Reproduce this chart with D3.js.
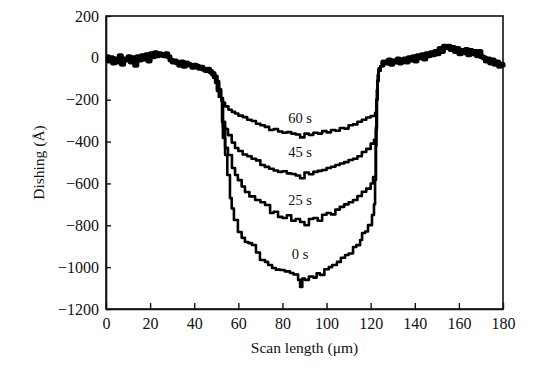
<!DOCTYPE html>
<html>
<head>
<meta charset="utf-8">
<script src="https://cdn.jsdelivr.net/npm/d3@7"></script>
<style>
  html, body { margin: 0; padding: 0; background: #fff; }
  svg { display: block; }
</style>
</head>
<body>
<svg id="chart" width="536" height="369"></svg>
<script>
// ---- data ----
const xTicks = [0, 20, 40, 60, 80, 100, 120, 140, 160, 180];
const yTicks = [200, 0, -200, -400, -600, -800, -1000, -1200];

// shared flat region left of the trench
const leftX = [0,1,2,3,4,5,6,7,8,9,10,11,12,13,14,15,16,17,18,19,20,21,22,23,24,25,26,27,28,29,30,31,32,33,34,35,36,37,38,39,40,41,42,43,44,45,46,47,48,49,50,50.8,51.7];
const leftY = [5,-15,0,-25,-5,-20,10,-30,-5,-10,5,-20,0,-35,5,-10,10,-5,15,-15,20,5,25,10,20,15,10,20,5,-10,-20,-15,-25,-35,-20,-40,-25,-30,-35,-45,-35,-40,-50,-45,-55,-60,-55,-65,-75,-90,-115,-154,-192];

// shared flat region right of the trench
const rightX = [124.5,125.5,127,128,129,130,131,132,133,134,135,136,137,138,139,140,141,142,143,144,145,146,147,148,149,150,151,152,153,154,155,156,157,158,159,160,161,162,163,164,165,166,167,168,169,170,171,172,173,174,175,176,177,178,179,180];
const rightY = [-35,-20,-25,-10,-30,-15,-20,-5,-25,-10,-5,-20,0,-10,5,-15,10,0,15,-5,20,10,25,15,30,20,45,30,55,50,55,40,50,30,45,20,35,25,40,15,35,20,30,10,30,5,0,-15,-5,-25,-10,-30,-20,-40,-30,-45];

// dishing profiles inside the trench for each polishing time
const series = [
  { label: "60 s", labelX: 88, labelY: -287,
    x: [51.7,53,54,55.5,57,58.5,60,62,64,66,68,70,72,74,76,78,80,82,84,86,88,90,92,94,96,98,100,102,104,106,108,110,112,114,116,118,120,122,122.6,123,123.6,124.5],
    y: [-192,-215,-232,-248,-258,-266,-276,-283,-296,-302,-315,-322,-330,-345,-340,-352,-358,-355,-362,-366,-380,-362,-368,-358,-362,-350,-356,-345,-348,-335,-338,-322,-318,-305,-296,-285,-278,-262,-200,-110,-60,-35] },
  { label: "45 s", labelX: 88, labelY: -450,
    x: [51.7,52.6,54,55.3,57,58.5,60,62,64,66,68,70,72,74,76,78,80,82,84,86,88,90,92,94,96,98,100,102,104,106,108,110,112,114,116,118,120,121.5,122.4,122.8,123.2,123.6,124.5],
    y: [-201,-306,-340,-369,-405,-431,-445,-462,-470,-482,-490,-512,-521,-530,-538,-545,-542,-552,-555,-562,-575,-548,-556,-545,-540,-536,-526,-520,-512,-505,-498,-488,-482,-470,-450,-435,-410,-392,-330,-200,-110,-60,-35] },
  { label: "25 s", labelX: 88, labelY: -679,
    x: [51.7,53,54,55.3,57.1,58.5,59.8,61.5,63,65,67.6,70,72.1,74.4,76,78,80,82,84,86,88,90,92,94,96,98,100,102,104,106,108,110,112,114,116,118,120,121.1,122.3,122.6,123,123.6,124.5],
    y: [-201,-383,-430,-464,-526,-560,-584,-615,-641,-662,-679,-690,-703,-741,-735,-760,-765,-752,-778,-770,-784,-800,-770,-765,-778,-750,-741,-748,-725,-712,-700,-690,-679,-660,-640,-625,-600,-569,-420,-200,-110,-60,-35] },
  { label: "0 s", labelX: 88, labelY: -937,
    x: [51.7,53,54,55,56.2,57,58,59.8,61.5,63,64.5,66.2,68,69.8,72.1,73.5,75.3,77,78.9,81,83.4,85,87.1,88,89,90.2,92,94,95.5,97,99,101,102.5,104.7,106.5,108.4,110,112,113.5,115.2,116.1,117.5,118.8,120.6,121.5,122,122.4,122.8,123.2,123.6,124.5],
    y: [-201,-330,-464,-560,-670,-720,-775,-832,-860,-880,-885,-894,-930,-966,-975,-990,-1004,-1012,-1014,-1020,-1028,-1035,-1061,-1095,-1055,-1061,-1045,-1050,-1030,-1037,-1010,-1000,-990,-975,-955,-942,-935,-904,-895,-870,-837,-830,-799,-751,-700,-584,-345,-154,-82,-50,-35] }
];

// ---- layout ----
const FONT = '"Liberation Serif", Tinos, "Times New Roman", "DejaVu Serif", serif';
const margin = { left: 106, top: 16, right: 33, bottom: 60 };
const W = 536, H = 369;
const svg = d3.select("#chart");
const x = d3.scaleLinear().domain([0, 180]).range([margin.left, W - margin.right]);
const y = d3.scaleLinear().domain([-1200, 200]).range([H - margin.bottom, margin.top]);

// frame
svg.append("rect")
  .attr("x", x(0)).attr("y", y(200))
  .attr("width", x(180) - x(0)).attr("height", y(-1200) - y(200))
  .attr("fill", "none").attr("stroke", "#111").attr("stroke-width", 1.6);

// axes with inward ticks
const xAxis = d3.axisBottom(x).tickValues(xTicks).tickSizeInner(-6).tickSizeOuter(0).tickPadding(8).tickFormat(d3.format("d"));
const yAxis = d3.axisLeft(y).tickValues(yTicks).tickSizeInner(-5).tickSizeOuter(0).tickPadding(7)
  .tickFormat(d => d < 0 ? "\u2212" + Math.abs(d) : String(d));

const gx = svg.append("g").attr("transform", `translate(0,${y(-1200)})`).call(xAxis);
const gy = svg.append("g").attr("transform", `translate(${x(0)},0)`).call(yAxis);
[gx, gy].forEach(g => {
  g.attr("font-family", FONT).attr("font-size", 16);
  g.select(".domain").attr("stroke", "#111").attr("stroke-width", 1.6);
  g.selectAll(".tick line").attr("stroke", "#111").attr("stroke-width", 1.4);
  g.selectAll(".tick text").attr("fill", "#111");
});
gx.selectAll(".tick text").attr("dy", "0.75em");

// axis titles
svg.append("text")
  .attr("x", (x(0) + x(180)) / 2).attr("y", 353)
  .attr("text-anchor", "middle").attr("font-family", FONT).attr("font-size", 15.5).attr("fill", "#111")
  .text("Scan length (\u03bcm)");
svg.append("text")
  .attr("transform", `translate(44,${(y(200) + y(-1200)) / 2}) rotate(-90)`)
  .attr("text-anchor", "middle").attr("font-family", FONT).attr("font-size", 15.5).attr("fill", "#111")
  .text("Dishing (\u00c5)");

// lines
const line = d3.line().x(d => x(d[0])).y(d => y(d[1])).curve(d3.curveStepAfter);
const plot = svg.append("g");

plot.append("path")
  .datum(d3.zip(leftX, leftY))
  .attr("d", line)
  .attr("fill", "none").attr("stroke", "#000").attr("stroke-width", 5).attr("stroke-linejoin", "round");

plot.append("path")
  .datum(d3.zip(rightX, rightY))
  .attr("d", line)
  .attr("fill", "none").attr("stroke", "#000").attr("stroke-width", 5).attr("stroke-linejoin", "round");

series.forEach(s => {
  plot.append("path")
    .datum(d3.zip(s.x, s.y))
    .attr("d", line)
    .attr("fill", "none").attr("stroke", "#000").attr("stroke-width", 2.6).attr("stroke-linejoin", "round");
  plot.append("text")
    .attr("x", x(s.labelX)).attr("y", y(s.labelY))
    .attr("dy", "0.35em")
    .attr("text-anchor", "middle").attr("font-family", FONT).attr("font-size", 14.5).attr("fill", "#111")
    .text(s.label);
});
</script>
</body>
</html>
